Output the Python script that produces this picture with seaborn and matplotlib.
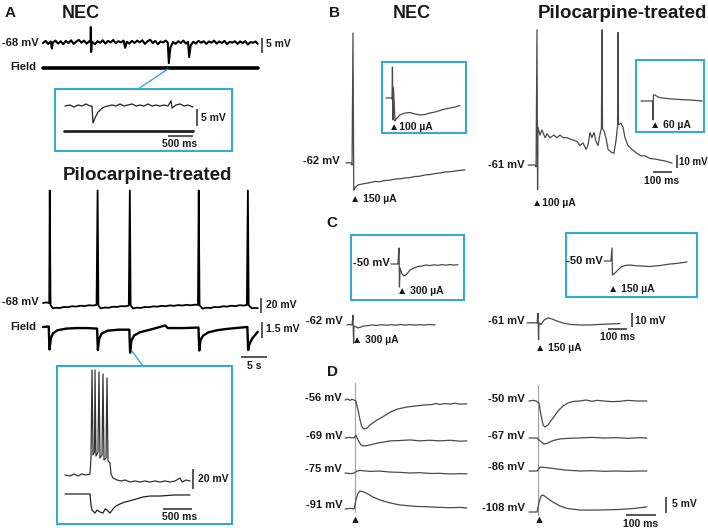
import matplotlib
matplotlib.use("Agg")
import matplotlib.pyplot as plt
import seaborn as sns
from matplotlib.patches import Rectangle
from matplotlib.lines import Line2D

# ---- data (time, membrane potential) ----
# Panel A, NEC: spontaneous activity (s, mV)
nec_a = [(0, 0), (0.5, 0.7), (1.0, -0.3), (1.5, 0.5), (1.7, -1.8), (1.9, 0.2), (2.4, 0.8), (2.9, -0.2),
         (3.4, 0.6), (3.9, -0.4), (4.4, 0.7), (4.9, 0), (5.4, 0.9), (5.9, -0.3), (6.4, 0.5), (6.9, 1.0),
         (7.4, 0.1), (7.9, 0.8), (8.4, -0.2), (8.9, 0.6), (9.15, 0.3), (9.2, 5.3), (9.25, -3.0), (9.4, 0.5),
         (10.0, -0.4), (10.5, 0.6), (11.0, 0.1), (11.5, 0.9), (12.0, -0.2), (12.5, 0.7), (13.0, 0.2),
         (13.5, 1.0), (14.0, -0.1), (14.5, 0.6), (15.0, 0.2), (15.5, 0.8), (15.8, -1.6), (16.1, 0.4),
         (16.6, -0.2), (17.1, 0.7), (17.6, 0), (18.1, 0.8), (18.6, 0.2), (19.1, 0.9), (19.6, -0.3),
         (20.1, 0.6), (20.6, 1.1), (21.1, 0), (21.6, 0.7), (22.1, -0.4), (22.6, 0.5), (23.1, 0.2),
         (23.6, 0.8), (24.0, 0.1), (24.2, -6.7), (24.5, -1.5), (25.0, 0.3), (25.5, -0.3), (26.0, 0.6),
         (26.5, 0), (27.0, 0.8), (27.5, -0.2), (27.9, 0.4), (28.1, -4.7), (28.4, -0.8), (28.9, 0.4),
         (29.4, -0.2), (29.9, 0.7), (30.4, 0.1), (30.9, 0.6), (31.4, -0.3), (31.9, 0.5), (32.4, 0.1),
         (32.9, 0.8), (33.4, -0.2), (33.9, 0.5), (34.4, 0), (34.9, 0.7), (35.4, -0.4), (35.9, 0.4),
         (36.4, 0.1), (36.9, 0.6), (37.4, -0.3), (37.9, 0.5), (38.4, 0), (38.9, 0.6), (39.4, -0.5),
         (39.9, 0.3), (40.4, 0.1), (40.9, 0.5), (41.3, -0.3)]
nec_a_field = [(0, 0), (41.3, 0)]
# NEC inset (ms, mV)
nec_a_zoom = [(0, 0), (100, 0.3), (180, -0.3), (260, 0.3), (340, 0), (420, 0.6), (500, 0), (540, 0),
              (560, -5.0), (600, -3.5), (660, -1.8), (720, -0.9), (780, -0.3), (860, 0), (940, 0.3),
              (1020, 0), (1100, 0.6), (1180, 0), (1260, 0.3), (1340, 0.6), (1420, 0), (1500, 0.3),
              (1580, 0), (1660, 0.6), (1740, 0), (1820, 0.3), (1900, 0), (1980, 0.3), (2060, 0),
              (2120, 1.5), (2140, -0.6), (2220, 0.3), (2300, 0.6), (2380, 0), (2460, 0.3), (2560, -0.3)]
nec_a_zoom_field = [(0, 0), (2580, 0)]

# Panel A, pilocarpine-treated: bursts and field (s, mV)
pilo_a = [(0, 0), (0.6, 0.8), (1.2, 0), (1.3, 150), (1.45, -3), (1.9, -7), (2.5, -6.3), (3.2, -6.8),
          (4.0, -5.2), (4.8, -5.6), (5.6, -4.3), (6.4, -4.8), (7.2, -3.6), (8.0, -4.1), (8.8, -3.0),
          (9.6, -3.4), (10.3, -2.5), (10.5, 150), (10.65, -3), (11.1, -7.2), (11.8, -6), (12.6, -6.4),
          (13.4, -5), (14.2, -5.3), (15.0, -4.2), (15.8, -4.4), (16.5, -3.5), (16.7, 150), (16.85, -3),
          (17.3, -7.3), (18.0, -6.2), (18.8, -6.6), (19.6, -5.3), (20.4, -5.6), (21.2, -4.5), (22.0, -4.9),
          (22.8, -3.8), (23.6, -4.3), (24.4, -3.2), (25.2, -3.8), (26.0, -2.8), (26.8, -3.4), (27.6, -2.4),
          (28.4, -3.1), (29.2, -2.2), (29.8, -2.6), (29.95, 150), (30.1, -3), (30.7, -7.5), (31.4, -6.3),
          (32.2, -6.7), (33.0, -5.3), (33.8, -5.7), (34.6, -4.4), (35.4, -4.8), (36.2, -3.7), (37.0, -4.1),
          (37.8, -3.0), (38.6, -3.4), (39.2, -2.6), (39.4, 150), (39.55, -3), (40.2, -7.2), (40.8, -6.4),
          (41.3, -7)]
pilo_a_field = [(0, 0), (1.1, 0.05), (1.25, -2.1), (1.5, -1.1), (1.9, -0.6), (2.8, -0.3), (4.5, -0.15),
                (6.5, -0.1), (8.5, -0.1), (10.4, -0.15), (10.55, -2.15), (10.8, -1.1), (11.3, -0.6),
                (12.4, -0.35), (14.5, -0.25), (16.6, -0.25), (16.75, -2.4), (17.0, -1.3), (17.5, -0.8),
                (18.6, -0.5), (21.0, -0.2), (23.5, 0.15), (24.0, -0.1), (27.0, -0.1), (29.9, -0.05),
                (30.05, -2.2), (30.3, -1.2), (30.8, -0.8), (31.8, -0.5), (33.5, -0.3), (35.0, -0.2),
                (37.0, -0.1), (39.3, 0), (39.45, -2.15), (39.7, -1.6), (40.2, -1.1), (40.7, -0.8), (41.3, -0.45)]
# pilocarpine inset (ms, mV)
pilo_a_zoom = [(0, 0), (86, -1), (155, 1), (224, -1), (293, 1), (362, 0), (431, 1), (448, 17), (466, 105),
               (483, 20), (509, 23), (517, 105), (534, 19), (569, 23), (586, 103), (603, 17), (638, 20),
               (655, 101), (672, 15), (707, 17), (724, 97), (741, 14), (776, 12), (793, 1), (828, -3),
               (897, -5), (966, -6), (1034, -5), (1121, -7), (1207, -6), (1293, -7), (1379, -6), (1466, -7),
               (1552, -6), (1638, -7), (1724, -6), (1810, -7), (1897, -6), (1983, -3), (2017, -7),
               (2086, -5), (2155, -6)]
pilo_a_zoom_field = [(0, 0), (431, 0), (448, -1.03), (466, -1.5), (517, -1.78), (552, -1.5), (603, -1.68),
                     (655, -1.78), (690, -1.4), (724, -1.5), (776, -1.78), (828, -1.4), (879, -1.12),
                     (948, -0.93), (1034, -0.75), (1172, -0.56), (1345, -0.28), (1466, -0.19),
                     (1638, -0.19), (1897, -0.09), (2155, -0.09)]

# Panel B: suprathreshold stimulation (ms, mV)
nec_b = [(-37, 0), (-20, 0.3), (-10, 0), (-5, -1.5), (0, 100), (4, -20.8), (10, -19.2), (26, -16.9),
         (47, -16.2), (79, -15.4), (116, -14.2), (140, -14.4), (168, -13.5), (195, -13.2), (221, -12.3),
         (250, -12.1), (274, -11.5), (300, -11.2), (326, -10.4), (350, -10.2), (379, -9.2), (405, -8.9),
         (432, -8.1), (460, -7.6), (484, -6.9), (510, -6.7), (537, -6.2), (565, -5.6), (589, -5.4)]
nec_b_zoom = [(-40, 0), (-7, 0), (0, -1), (3, 31), (6.7, -22), (10, 10), (20, -23), (27, -21), (53, -17),
              (87, -15), (120, -14.5), (153, -16), (187, -17), (220, -16.5), (253, -15), (287, -14),
              (320, -12.5), (353, -11), (387, -10), (420, -9), (453, -7.5)]
pilo_b = [(-47, 0), (-11, 0), (-5, -1.5), (0, 104), (3, -19), (5, 29), (16, 23), (26, 27), (42, 21),
          (53, 24), (68, 21), (89, 23), (105, 21), (121, 23), (137, 21), (158, 21), (174, 20), (195, 19),
          (211, 18), (226, 15), (242, 17), (258, 12), (268, 15), (279, 25), (289, 21), (300, 25), (311, 18),
          (321, 15), (332, 24), (339, 28), (342, 104), (345, 28), (353, 26), (363, 21), (374, 12), (389, 10),
          (405, 9), (416, 19), (424, 30), (426, 102), (429, 31), (442, 32), (453, 29), (463, 21), (479, 15),
          (500, 12), (526, 9), (547, 7), (568, 7), (595, 5), (621, 4.6), (647, 3.8), (674, 3.1), (711, 1.5)]
pilo_b_zoom = [(-80, 0), (-7, 0), (-3, 0), (0, -19), (3, 6), (13, 6), (33, 4), (60, 3), (93, 2.5),
               (127, 2), (180, 1.5), (247, 1), (327, 0)]

# Panel C: subthreshold stimulation (ms, mV)
nec_c = [(-32, 0), (-20, 0.3), (-5, 0), (0, 7), (3, -13), (5, -0.7), (16, -1.4), (26, -2.1), (42, -1.4),
         (58, -0.7), (79, -0.4), (100, 0), (125, -0.3), (150, 0.2), (175, -0.2), (200, 0.2), (225, -0.1),
         (250, 0.3), (275, 0), (300, 0.3), (325, -0.1), (350, 0.2), (375, 0), (400, 0.3), (432, 0.1)]
nec_c_zoom = [(-53, 0), (-7, 0), (0, 16), (3, -23), (7, -4), (20, -10), (33, -12), (53, -10), (73, -6),
              (100, -4), (127, -2.5), (153, -2), (180, -1), (207, -1.6), (233, -0.8), (260, -1.3),
              (287, -0.6), (313, -1.2), (340, -0.5), (367, -1.1), (393, -0.7)]
pilo_c = [(-58, 0), (-30, 0.2), (-5, 0), (0, 7), (3, -12), (5, 0), (16, -1), (32, 2.1), (53, 3.6),
          (74, 2.9), (100, 1.4), (132, 0), (168, -1), (221, -1.4), (274, -1.4), (326, -1), (379, -0.7),
          (432, -0.4)]
pilo_c_zoom = [(-53, 0), (-7, 0), (0, 13), (3, -14), (20, -12), (40, -9), (60, -6), (87, -4.5), (120, -4),
               (153, -4.6), (187, -5), (220, -5.2), (253, -5.5), (287, -5), (320, -4.5), (353, -3.8),
               (387, -3), (420, -2.6), (453, -2), (500, -1)]

# Panel D: responses at different holding potentials (ms, mV relative to holding)
nec_d_labels = ["-56 mV", "-69 mV", "-75 mV", "-91 mV"]
nec_d = [
    [(-33, 0), (-25, 0.3), (-17, -0.1), (-9, 0.2), (-3, 0), (3, -0.3), (10, -3.1), (17, -6.3), (23, -8.4),
     (30, -9.1), (40, -8.8), (50, -7.8), (73, -6.3), (97, -5.0), (117, -3.8), (143, -2.8), (173, -2.2),
     (200, -1.9), (227, -1.6), (257, -1.4), (270, -1.1), (283, -1.4), (300, -1.1), (317, -1.3),
     (333, -1.0), (350, -1.3), (373, -1.2)],
    [(-33, 0), (-20, 0.2), (-3, 0), (3, 0.9), (10, -0.6), (20, -2.2), (30, -2.5), (50, -2.2), (73, -1.6),
     (97, -1.25), (117, -0.9), (150, -0.8), (183, -0.6), (217, -0.9), (250, -0.7), (283, -0.9),
     (317, -0.7), (350, -1.0), (373, -0.9)],
    [(-33, 0), (-15, -0.2), (-3, 0), (7, 0.6), (17, 0.8), (50, 0.5), (83, 0.6), (117, 0.3), (150, 0.2),
     (183, 0), (217, 0.1), (250, -0.15), (283, -0.1), (317, -0.3), (350, -0.2), (373, -0.3)],
    [(-33, 0), (-15, 0.2), (-3, 0), (3, 2.8), (10, 5.0), (17, 5.6), (30, 5.3), (43, 4.7), (60, 3.75),
     (83, 2.8), (117, 1.9), (150, 1.25), (180, 1.0), (207, 0.8), (240, 0.7), (283, 0.5), (320, 0.4),
     (350, 0.5), (373, 0.3)],
]
pilo_d_labels = ["-50 mV", "-67 mV", "-86 mV", "-108 mV"]
pilo_d = [
    [(-30, 0), (-15, 0.2), (-7, 0), (3, -0.6), (10, -4.4), (17, -7.5), (23, -8.1), (33, -7.5), (50, -5.3),
     (67, -3.1), (83, -1.6), (100, -0.6), (117, -0.15), (140, 0), (160, 0.3), (180, -0.1), (197, 0.2),
     (220, 0), (245, -0.2), (273, -0.1), (300, 0.2), (330, 0), (363, 0)],
    [(-30, 0), (-3, 0), (7, -0.9), (20, -1.9), (33, -1.6), (50, -0.8), (73, -0.3), (100, -0.1), (140, 0),
     (180, 0.2), (220, 0), (260, 0.1), (300, -0.1), (340, 0.1), (363, 0)],
    [(-30, 0), (-3, 0), (7, 1.25), (23, 1.1), (50, 0.8), (90, 0.3), (140, 0), (180, 0.1), (220, -0.1),
     (260, 0), (300, -0.1), (340, 0), (363, 0)],
    [(-30, 0), (-3, 0), (3, 2.8), (10, 5.0), (17, 5.3), (30, 4.4), (50, 3.1), (73, 1.9), (97, 1.1),
     (140, 0.6), (197, 0.6), (240, 0.7), (273, 0.8), (320, 1.1), (363, 1.6)],
]

# ---- styling ----
W, H = 708, 528
CYAN = "#35a9d9"
TRACE = "#4a4a4a"
STIM = "#a0a0a0"
BAR = "#3a3a3a"

sns.set_theme(style="white")
plt.rcParams["font.family"] = ["Liberation Sans", "DejaVu Sans"]

fig = plt.figure(figsize=(W / 100, H / 100), dpi=100)
all_axes = []


def trace_ax(x0, y0, sx, sy):
    """Transparent full-figure axes: data (0, 0) sits at pixel (x0, y0), sx/sy pixels per unit."""
    ax = fig.add_axes([0, 0, 1, 1])
    ax.axis("off")
    all_axes.append((ax, (-x0 / sx, (W - x0) / sx), ((y0 - H) / sy, y0 / sy)))
    return ax


def trace(ax, pts, color=TRACE, lw=0.9):
    t, v = zip(*pts)
    sns.lineplot(x=list(t), y=list(v), ax=ax, color=color, linewidth=lw, sort=False, estimator=None)


def vbar(ax, t, v_top, length):
    ax.plot([t, t], [v_top, v_top - length], color=BAR, lw=1.2, solid_capstyle="butt")


def hbar(ax, t_end, v, length):
    ax.plot([t_end - length, t_end], [v, v], color=BAR, lw=1.2, solid_capstyle="butt")


def put(x, y, s, size=8, ha="left", weight="bold"):
    fig.text(x / W, 1 - y / H, s, fontsize=size, ha=ha, va="center", fontweight=weight, color="#1a1a1a")


def box(x0, y0, x1, y1):
    fig.add_artist(Rectangle((x0 / W, 1 - y1 / H), (x1 - x0) / W, (y1 - y0) / H,
                             transform=fig.transFigure, fill=False, ec=CYAN, lw=1.5))


def link(x0, y0, x1, y1):
    fig.add_artist(Line2D([x0 / W, x1 / W], [1 - y0 / H, 1 - y1 / H],
                          transform=fig.transFigure, color=CYAN, lw=1.0))


# ---------------- Panel A ----------------
put(10, 13, "A", 11, "center")
put(81, 13, "NEC", 13, "center")
ax = trace_ax(43, 43, 5.2, 3.0)
trace(ax, nec_a, "black", 1.5)
vbar(ax, 42.1, 1.7, 5)
put(39, 43, "-68 mV", 8, "right")
put(266, 44, "5 mV", 7.5)
ax = trace_ax(43, 68, 5.2, 3.0)
trace(ax, nec_a_field, "black", 2.6)
put(10, 67, "Field", 8)

link(168, 69, 138, 89)
box(55, 89, 232, 151)
ax = trace_ax(65, 106, 0.05, 3.4)
trace(ax, nec_a_zoom, "#222222", 0.9)
vbar(ax, 2640, -0.9, 5)
put(201, 118, "5 mV", 7.5)
ax = trace_ax(64, 131, 0.05, 3.4)
trace(ax, nec_a_zoom_field, "#222222", 2.0)
hbar(ax, 2580, -1.5, 500)
put(180, 144, "500 ms", 7.5, "center")

put(147, 175, "Pilocarpine-treated", 13.5, "center")
ax = trace_ax(43, 303, 5.2, 0.75)
trace(ax, pilo_a, "black", 1.3)
vbar(ax, 41.9, 6.7, 20)
put(39, 302, "-68 mV", 8, "right")
put(266, 305, "20 mV", 7.5)
ax = trace_ax(43, 327, 5.2, 10.7)
trace(ax, pilo_a_field, "black", 1.7)
vbar(ax, 42.1, 0.47, 1.5)
hbar(ax, 43.1, -2.8, 5)
put(10, 327, "Field", 8)
put(266, 329, "1.5 mV", 7.5)
put(254, 366, "5 s", 7.5, "center")

link(132, 351, 143, 366)
box(57, 366, 232, 524)
ax = trace_ax(65, 475, 0.058, 1.0)
trace(ax, pilo_a_zoom, "#333333", 0.9)
vbar(ax, 2207, 6, 20)
put(198, 479, "20 mV", 7.5)
ax = trace_ax(65, 494, 0.058, 10.7)
trace(ax, pilo_a_zoom_field, "#222222", 0.9)
hbar(ax, 2190, -1.4, 500)
put(180, 517, "500 ms", 7.5, "center")

# ---------------- Panel B ----------------
put(334, 13, "B", 11, "center")
put(412, 13, "NEC", 13, "center")
put(622, 13, "Pilocarpine-treated", 13.5, "center")
ax = trace_ax(353, 163, 0.19, 1.3)
trace(ax, nec_b)
put(340, 161, "-62 mV", 8, "right")
put(350, 199, "\u25b2 150 \u00b5A", 7.5)
box(382, 62, 466, 133)
ax = trace_ax(392, 98, 0.15, 1.0)
trace(ax, nec_b_zoom)
put(389, 127, "\u25b2100 \u00b5A", 7.5)

ax = trace_ax(537, 165, 0.19, 1.3)
trace(ax, pilo_b)
vbar(ax, 737, 7.7, 10)
hbar(ax, 711, -5.4, 100)
put(524, 165, "-61 mV", 8, "right")
put(532, 203, "\u25b2100 \u00b5A", 7.5)
put(679, 162, "10 mV", 7)
put(662, 181, "100 ms", 7.5, "center")
box(636, 60, 704, 132)
ax = trace_ax(653, 101, 0.15, 1.0)
trace(ax, pilo_b_zoom)
put(650, 125, "\u25b2 60 \u00b5A", 7.5)

# ---------------- Panel C ----------------
put(332, 223, "C", 11, "center")
box(351, 235, 464, 300)
ax = trace_ax(399, 264, 0.15, 1.0)
trace(ax, nec_c_zoom)
put(390, 263, "-50 mV", 8, "right")
put(397, 291, "\u25b2 300 \u00b5A", 7.5)
ax = trace_ax(353, 325, 0.19, 1.4)
trace(ax, nec_c)
put(343, 321, "-62 mV", 8, "right")
put(352, 340, "\u25b2 300 \u00b5A", 7.5)

box(566, 233, 697, 297)
ax = trace_ax(612, 261, 0.15, 1.0)
trace(ax, pilo_c_zoom)
put(603, 261, "-50 mV", 8, "right")
put(608, 289, "\u25b2 150 \u00b5A", 7.5)
ax = trace_ax(538, 323, 0.19, 1.4)
trace(ax, pilo_c)
vbar(ax, 495, 7.1, 10)
hbar(ax, 468, -4.3, 100)
put(525, 321, "-61 mV", 8, "right")
put(635, 321, "10 mV", 7.5)
put(618, 337, "100 ms", 7.5, "center")
put(535, 348, "\u25b2 150 \u00b5A", 7.5)

# ---------------- Panel D ----------------
put(332, 372, "D", 11, "center")
nec_rows = [400, 438, 473, 509]
pilo_rows = [401, 438, 471, 512]
for i, (pts, lab) in enumerate(zip(nec_d, nec_d_labels)):
    ax = trace_ax(355, nec_rows[i], 0.30, 3.2)
    if i == 0:
        ax.plot([0, 0], [5.3, -35], color=STIM, lw=0.8)
    trace(ax, pts)
    put(342, nec_rows[i] - 2 if i < 2 else nec_rows[i] - 4, lab, 8, "right")
put(355, 520, "\u25b2", 8, "center")

for i, (pts, lab) in enumerate(zip(pilo_d, pilo_d_labels)):
    ax = trace_ax(538, pilo_rows[i], 0.30, 3.2)
    if i == 0:
        ax.plot([0, 0], [5, -35.6], color=STIM, lw=0.8)
    trace(ax, pts)
    if i == 3:
        vbar(ax, 427, 4.7, 5)
        hbar(ax, 393, -0.9, 100)
    put(525, pilo_rows[i] - 2 if i < 2 else pilo_rows[i] - 4, lab, 8, "right")
put(539, 520, "\u25b2", 8, "center")
put(672, 504, "5 mV", 7.5)
put(641, 524, "100 ms", 7.5, "center")

for ax, xl, yl in all_axes:
    ax.set_xlim(xl)
    ax.set_ylim(yl)

plt.savefig("out.png", dpi=100)
plt.close()
